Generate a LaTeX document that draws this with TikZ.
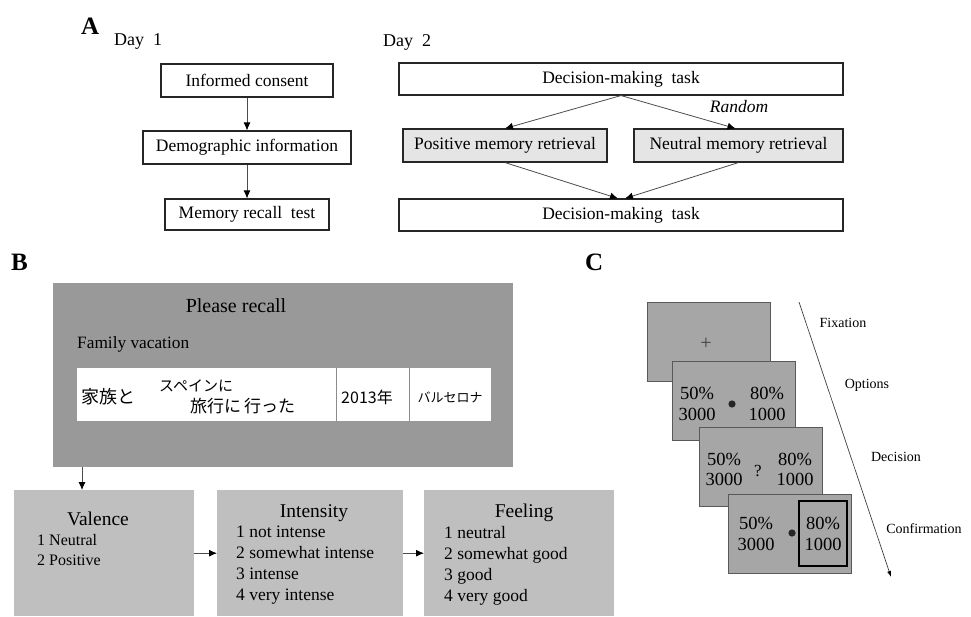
\documentclass[tikz,border=0pt]{standalone}
\usepackage{fontspec}
\setmainfont{Liberation Serif}
\newfontfamily\jpfont{Noto Sans CJK JP}
\usetikzlibrary{arrows.meta,calc,positioning}

\definecolor{recallgray}{gray}{0.6}
\definecolor{scalegray}{gray}{0.75}
\definecolor{screengray}{gray}{0.65}
\definecolor{pickgray}{gray}{0.9}

\tikzset{
  flow/.style={draw=black!85, line width=1.1pt, inner sep=0pt, minimum height=33,
    font=\fontsize{17.5}{21}\selectfont},
  pick/.style={flow, fill=pickgray},
  link/.style={-{Latex[length=8pt,width=7pt,color=black]}, draw=black!70, line width=0.8pt},
  panel/.style={inner sep=0pt, font=\bfseries\fontsize{25}{25}\selectfont},
  day/.style={inner sep=0pt, font=\fontsize{18}{18}\selectfont},
  scale box/.style={fill=scalegray, inner sep=0pt, minimum height=126},
  title/.style={inner sep=0pt, font=\fontsize{19.5}{20}\selectfont},
  items/.style={inner sep=0pt, align=left, font=\fontsize{17.5}{21}\selectfont},
  jp/.style={inner sep=0pt, font=\jpfont},
  screen/.style={draw=black!65, fill=screengray, line width=0.8pt, inner sep=0pt,
    minimum width=123, minimum height=79},
  odds/.style={inner sep=0pt, align=center, font=\fontsize{18.5}{20.5}\selectfont},
  phase/.style={inner sep=0pt, font=\fontsize{14}{14}\selectfont},
}

\begin{document}
\begin{tikzpicture}[x=1pt,y=-1pt]
\useasboundingbox (0,0) rectangle (971,616);

% A
\node[panel, anchor=base west] (A) at (81,34) {A};
\node[day, anchor=base west] (day1) at (114,45) {Day\ \ 1};
\node[day, anchor=base west] (day2) at (383,46) {Day\ \ 2};

\node[flow, minimum width=172] (consent) at (247,80.5) {Informed consent};
\node[flow, minimum width=208] (demo) at (247,147.5) {Demographic information};
\node[flow, minimum width=164, minimum height=31] (recall) at (247,214.5) {Memory recall\ \ test};
\draw[link] (consent) -- (demo);
\draw[link] (demo) -- (recall);

\node[flow, minimum width=444, minimum height=32] (dmt1) at (621,79) {Decision-making\ \ task};
\node[pick, minimum width=204] (pos) at (505,145.5) {Positive memory retrieval};
\node[pick, minimum width=209] (neu) at (738.5,145.5) {Neutral memory retrieval};
\node[flow, minimum width=444, minimum height=32] (dmt2) at (621,215) {Decision-making\ \ task};
\node[inner sep=0pt, font=\itshape\fontsize{17.5}{18}\selectfont] (random) at (739,107) {Random};
\coordinate (in1) at ($(dmt2.north)+(-3,0)$);
\coordinate (in2) at ($(dmt2.north)+(4,0)$);
\draw[link] (dmt1.south) -- (pos.north);
\draw[link] (dmt1.south) -- ($(neu.north)+(-3,0)$);
\draw[link] (pos.south) -- (in1);
\draw[link] (neu.south) -- (in2);

% B
\node[panel, anchor=base west] (B) at (11,270) {B};
\node[fill=recallgray, inner sep=0pt, minimum width=460, minimum height=184, anchor=north west] (cue) at (53,283) {};
\node[inner sep=0pt, font=\fontsize{20}{20}\selectfont] (please) at (236,306) {Please recall};
\node[inner sep=0pt, anchor=west, font=\fontsize{17.3}{18}\selectfont] (family) at (77,344) {Family vacation};
\node[fill=white, inner sep=0pt, minimum width=414, minimum height=53, anchor=north west] (memo) at (77,368) {};
\draw[black!45, line width=0.8pt] (336,368) -- (336,421);
\draw[black!45, line width=0.8pt] (409,368) -- (409,421);
\node[jp, anchor=west, font=\jpfont\fontsize{18}{18}\selectfont] (who) at (81,397) {家族と};
\node[jp, anchor=west, font=\jpfont\fontsize{15}{15}\selectfont] (where) at (159,386) {スペインに};
\node[jp, anchor=west, font=\jpfont\fontsize{17}{17}\selectfont] (what) at (190,406) {旅行に\,行った};
\node[jp, font=\jpfont\fontsize{16}{16}\selectfont] (year) at (367,397) {2013年};
\node[jp, font=\jpfont\fontsize{13}{13}\selectfont] (city) at (450,397) {バルセロナ};

\node[scale box, minimum width=180, anchor=north west] (valence) at (14,490) {};
\node[scale box, minimum width=186, anchor=north west] (intensity) at (217,490) {};
\node[scale box, minimum width=190, anchor=north west] (feeling) at (424,490) {};
\draw[link] ($(cue.south west)+(29,0)$) -- ($(valence.north west)+(68,0)$);
\draw[link] (valence.east) -- (intensity.west);
\draw[link] (intensity.east) -- (feeling.west);

\node[title] (valt) at (98,519) {Valence};
\node[items, anchor=west, font=\fontsize{16}{20}\selectfont] (vali) at (37,550) {1 Neutral\\2 Positive};
\node[title] (intt) at (314,513) {Intensity};
\node[items, anchor=west] (inti) at (236,565.5) {1 not intense\\2 somewhat intense\\3 intense\\4 very intense};
\node[title] (feelt) at (524,513) {Feeling};
\node[items, anchor=west] (feeli) at (444,566) {1 neutral\\2 somewhat good\\3 good\\4 very good};

% C
\node[panel, anchor=base west] (C) at (585,270) {C};
\node[screen] (fix) at (708.5,341.5) {};
\node[screen] (opt) at (733.5,401) {};
\node[screen] (dec) at (761,467) {};
\node[screen] (con) at (790,533.5) {};

\node[inner sep=0pt, font=\fontsize{20}{20}\selectfont, text=black!75] (cross) at (706,344) {+};
\node[odds] (optl) at (697,404) {50\%\\3000};
\node[odds] (optr) at (767,404) {80\%\\1000};
\fill[black!85] (732,404) circle (3.6);
\node[odds] (decl) at (724,469.5) {50\%\\3000};
\node[odds] (decr) at (795,469.5) {80\%\\1000};
\node[odds, font=\fontsize{17}{17}\selectfont] (ask) at (758,471) {?};
\node[odds] (conl) at (756,534) {50\%\\3000};
\node[draw=black, line width=2pt, inner sep=0pt, minimum width=48, minimum height=65] (choice) at (823,533.5) {};
\node[odds] (conr) at (823,534) {80\%\\1000};
\fill[black!85] (792,533) circle (3.6);

\coordinate (t0) at (799,302);
\coordinate (t1) at (891,577);
\draw[-{Latex[length=6pt,width=4pt,color=black]}, draw=black!75, line width=0.7pt] (t0) -- (t1);
\node[phase] (fixl) at (843,323) {Fixation};
\node[phase] (optlab) at (867,385) {Options};
\node[phase] (declab) at (896,457) {Decision};
\node[phase] (conlab) at (924,529) {Confirmation};
\end{tikzpicture}
\end{document}
